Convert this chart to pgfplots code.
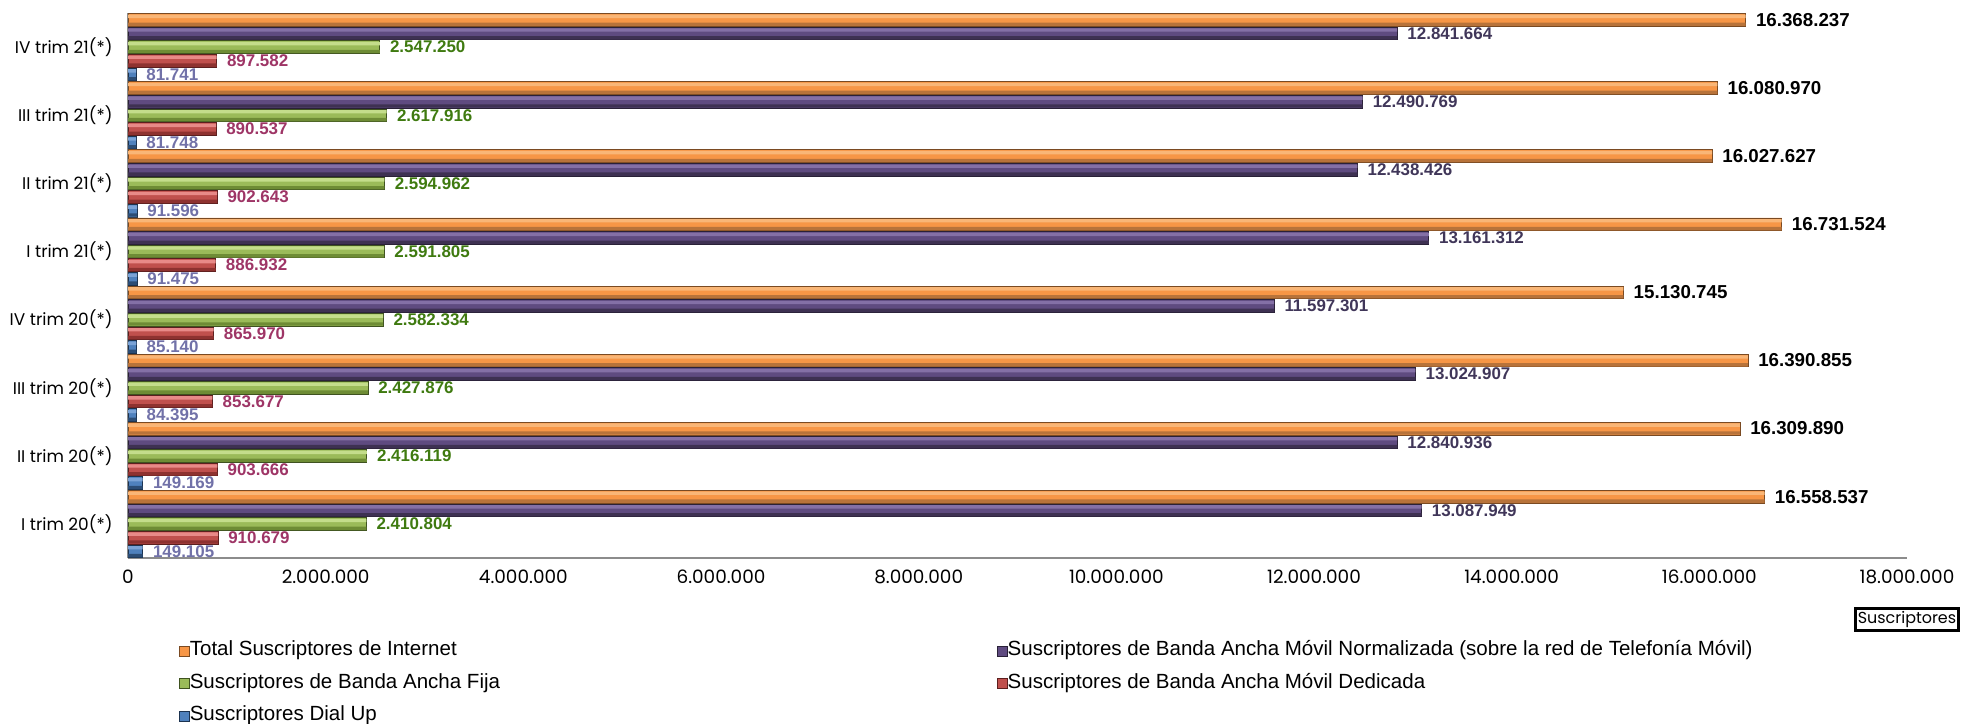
\documentclass[border=0pt]{standalone}
\usepackage{fontspec}
\setmainfont{Liberation Sans}
\newfontfamily\gothic{Poppins}
\usepackage{pgfplots}
\usepackage{pgfplotstable}
\pgfplotsset{compat=1.18}

\definecolor{orL}{HTML}{F9B677}
\definecolor{orM}{HTML}{F79646}
\definecolor{orD}{HTML}{B8733A}
\definecolor{orE}{HTML}{7A4A22}
\definecolor{puL}{HTML}{8470A6}
\definecolor{puM}{HTML}{5F4B80}
\definecolor{puD}{HTML}{3E3152}
\definecolor{puE}{HTML}{2A2138}
\definecolor{grL}{HTML}{C4DD8B}
\definecolor{grM}{HTML}{9BBB59}
\definecolor{grD}{HTML}{6E8C35}
\definecolor{grE}{HTML}{3F5220}
\definecolor{reL}{HTML}{E88A88}
\definecolor{reM}{HTML}{C0504D}
\definecolor{reD}{HTML}{8E3230}
\definecolor{reE}{HTML}{5C1F1E}
\definecolor{blL}{HTML}{7BA3D6}
\definecolor{blM}{HTML}{4F81BD}
\definecolor{blD}{HTML}{2C4D75}
\definecolor{blE}{HTML}{1C3350}
\definecolor{labNorm}{HTML}{403659}
\definecolor{labFija}{HTML}{3F7A10}
\definecolor{labDed}{HTML}{9E3566}
\definecolor{labDial}{HTML}{7171A8}

\pgfplotstableread{
y total norm fija ded dial ltotal lnorm lfija lded ldial
0 16558537 13087949 2410804 910679 149105 16.558.537 13.087.949 2.410.804 910.679 149.105
1 16309890 12840936 2416119 903666 149169 16.309.890 12.840.936 2.416.119 903.666 149.169
2 16390855 13024907 2427876 853677 84395 16.390.855 13.024.907 2.427.876 853.677 84.395
3 15130745 11597301 2582334 865970 85140 15.130.745 11.597.301 2.582.334 865.970 85.140
4 16731524 13161312 2591805 886932 91475 16.731.524 13.161.312 2.591.805 886.932 91.475
5 16027627 12438426 2594962 902643 91596 16.027.627 12.438.426 2.594.962 902.643 91.596
6 16080970 12490769 2617916 890537 81748 16.080.970 12.490.769 2.617.916 890.537 81.748
7 16368237 12841664 2547250 897582 81741 16.368.237 12.841.664 2.547.250 897.582 81.741
}\datatable

% stripe: column, shift, width, colour
\newcommand{\stripe}[4]{\addplot[forget plot, draw=none, fill=#4, bar width=#3, bar shift=#2] table[x=#1, y=y] \datatable;}

\begin{document}
\begin{tikzpicture}
\path[use as bounding box] (0,0) rectangle (1980bp,724bp);
\begin{axis}[
  at={(128bp,166bp)}, anchor=south west,
  width=1779bp, height=545bp, scale only axis,
  xmin=0, xmax=18000000, ymin=-0.5, ymax=7.5,
  xbar, bar width=0.185,
  scaled x ticks=false,
  axis x line=bottom, axis y line=left,
  axis line style={-, draw=black!45, line width=1.2bp},
  major tick length=0pt,
  xtick={0,2000000,4000000,6000000,8000000,10000000,12000000,14000000,16000000,18000000},
  xticklabels={0,2.000.000,4.000.000,6.000.000,8.000.000,10.000.000,12.000.000,14.000.000,16.000.000,18.000.000},
  xticklabel style={font=\gothic\fontsize{18.5}{18.5}\selectfont, yshift=-8bp},
  ytick={0,1,2,3,4,5,6,7},
  yticklabels={I trim 20(*),II trim 20(*),III trim 20(*),IV trim 20(*),I trim 21(*),II trim 21(*),III trim 21(*),IV trim 21(*)},
  yticklabel style={font=\gothic\fontsize{17}{17}\selectfont, xshift=-12bp},
  xlabel={Suscriptores},
  xlabel style={at={(axis description cs:1.0,-0.113)}, anchor=center, draw=black, line width=3bp,
    font=\gothic\fontsize{16}{16}\selectfont, inner xsep=2.5bp, inner ysep=3bp},
  every node near coord/.append style={anchor=west, inner sep=0pt, xshift=10bp,
    font=\fontsize{17}{17}\selectfont\bfseries},
  legend columns=2,
  reverse legend,
  legend cell align=left,
  legend image code/.code={\draw[#1, line width=0.6bp] (0bp,-5bp) rectangle (10bp,5bp);},
  legend style={at={(axis description cs:0.027,-0.15)}, anchor=north west, draw=none, fill=none,
    font=\fontsize{20.6}{20.6}\selectfont,
    nodes={inner sep=0pt, text height=14bp, text depth=4bp},
    row sep=14.5bp,
    /tikz/column 2/.style={column sep=497bp}},
]
% Dial Up
\addplot[bar shift=-0.4, draw=blE, line width=0.6bp, fill=blM,
  point meta=explicit symbolic, nodes near coords,
  every node near coord/.append style={text=labDial}]
  table[x=dial, y=y, meta=ldial] \datatable;
\addlegendentry{Suscriptores Dial Up}
\stripe{dial}{-0.35}{0.05}{blL}
\stripe{dial}{-0.465}{0.05}{blD}
% Dedicada
\addplot[bar shift=-0.2, draw=reE, line width=0.6bp, fill=reM,
  point meta=explicit symbolic, nodes near coords,
  every node near coord/.append style={text=labDed}]
  table[x=ded, y=y, meta=lded] \datatable;
\addlegendentry{Suscriptores de Banda Ancha Móvil Dedicada}
\stripe{ded}{-0.15}{0.05}{reL}
\stripe{ded}{-0.265}{0.05}{reD}
% Fija
\addplot[bar shift=0, draw=grE, line width=0.6bp, fill=grM,
  point meta=explicit symbolic, nodes near coords,
  every node near coord/.append style={text=labFija}]
  table[x=fija, y=y, meta=lfija] \datatable;
\addlegendentry{Suscriptores de Banda Ancha Fija}
\stripe{fija}{0.05}{0.05}{grL}
\stripe{fija}{-0.065}{0.05}{grD}
% Normalizada
\addplot[bar shift=0.2, draw=puE, line width=0.6bp, fill=puM,
  point meta=explicit symbolic, nodes near coords,
  every node near coord/.append style={text=labNorm}]
  table[x=norm, y=y, meta=lnorm] \datatable;
\addlegendentry{Suscriptores de Banda Ancha Móvil Normalizada (sobre la red de Telefonía Móvil)}
\stripe{norm}{0.25}{0.05}{puL}
\stripe{norm}{0.135}{0.05}{puD}
% Total
\addplot[bar shift=0.4, draw=orE, line width=0.6bp, fill=orM,
  point meta=explicit symbolic, nodes near coords,
  every node near coord/.append style={text=black, font=\fontsize{18.8}{18.8}\selectfont\bfseries}]
  table[x=total, y=y, meta=ltotal] \datatable;
\addlegendentry{Total Suscriptores de Internet}
\stripe{total}{0.45}{0.05}{orL}
\stripe{total}{0.335}{0.05}{orD}
\end{axis}
\end{tikzpicture}
\end{document}
